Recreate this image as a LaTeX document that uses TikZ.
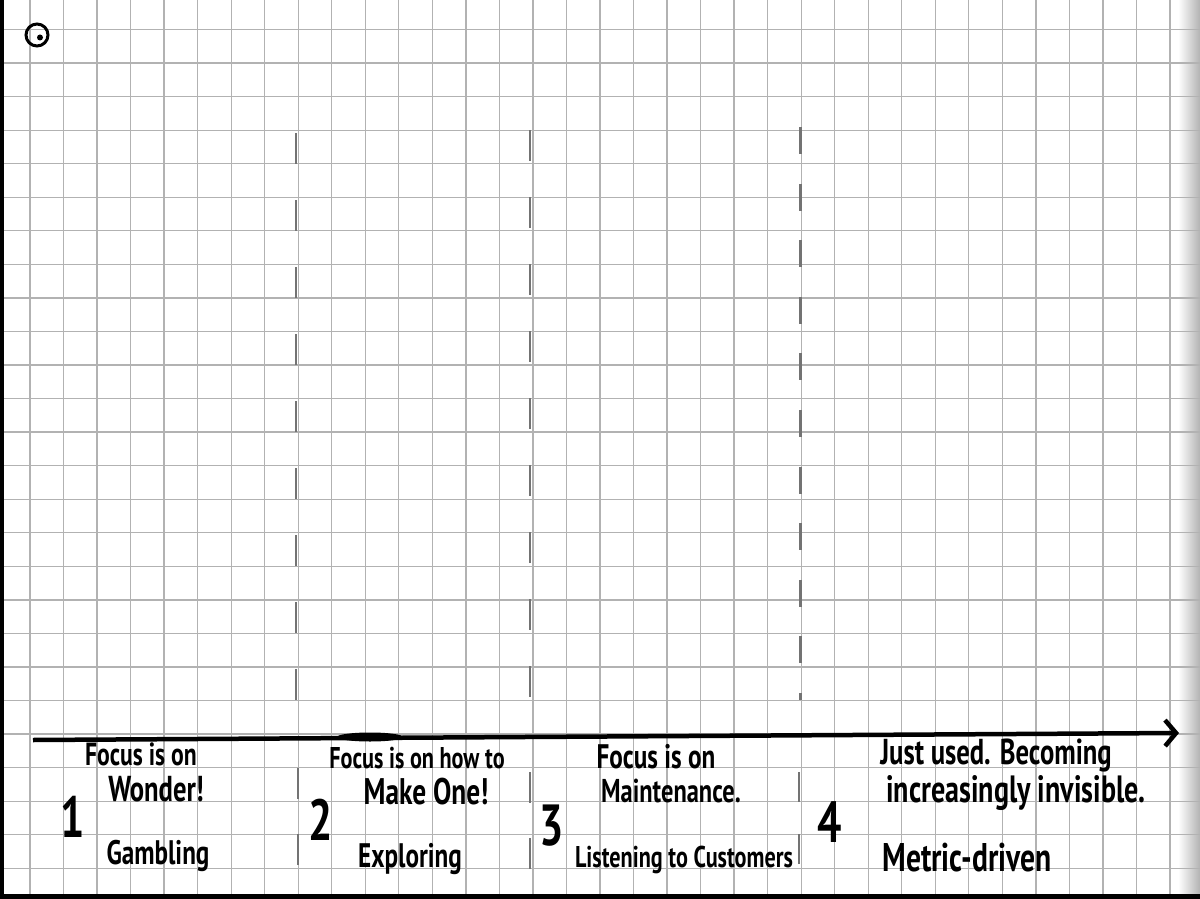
\documentclass[tikz,border=0pt]{standalone}
\usepackage{fontspec}
\newfontfamily\hand[FakeStretch=0.74]{PT Sans Bold}
\usetikzlibrary{arrows.meta}
\tikzset{
  % carta a quadretti
  gridline/.style={draw=black!30, line width=1.3pt},
  divider/.style={draw=black!55, line width=2.6pt, dash pattern=on 31pt off 36pt},
  tightdivider/.style={draw=black!55, line width=2.6pt, dash pattern=on 27pt off 29.6pt},
  timeline/.style={line width=4.5pt, -{Straight Barb[length=11pt,width=26pt]}},
  % testi scritti a mano
  numeral/.style={anchor=base, inner sep=0pt, font=\hand\fontsize{58}{58}\selectfont},
  lead/.style={anchor=base, inner sep=0pt, font=\hand\fontsize{#1}{#1}\selectfont},
  lead/.default=28,
  headline/.style={anchor=base, inner sep=0pt, font=\hand\fontsize{#1}{#1}\selectfont},
  headline/.default=36,
  tag/.style={anchor=base, inner sep=0pt, font=\hand\fontsize{#1}{#1}\selectfont},
  tag/.default=34
}

\begin{document}
\begin{tikzpicture}[x=1pt, y=-1pt]

\useasboundingbox (0,0) rectangle (1200,899);
\fill[white] (0,0) rectangle (1200,899);
\shade[left color=white, right color=black!30] (1178,0) rectangle (1200,899);

% Griglia
\foreach \i in {0,...,34}
  \draw[gridline] ({30+33.53*\i},0) -- ({30+33.53*\i},899);
\foreach \j in {0,...,25}
  \draw[gridline] (0,{29.5+33.55*\j}) -- (1200,{29.5+33.55*\j});

% Bordi del foglio
\fill[black] (0,0) rectangle (3.5,899);
\fill[black] (0,894) rectangle (1200,899);

% Simbolo in alto a sinistra
\draw[line width=3pt] (37,35) circle[radius=11];
\fill (40,37.5) circle[radius=3];

% Separatori tratteggiati
\coordinate (sepAtop) at (296,133);
\coordinate (sepAbot) at (296,700);
\coordinate (sepBtop) at (530,130);
\coordinate (sepBbot) at (530,700);
\coordinate (sepCtop) at (800.5,127);
\coordinate (sepCbot) at (800.5,700);
\coordinate (lowAtop) at (298,768);
\coordinate (lowAbot) at (298,868);
\coordinate (lowBtop) at (530,772);
\coordinate (lowBbot) at (530,873);
\coordinate (lowCtop) at (799,772);
\coordinate (lowCbot) at (799,868);

\draw[divider] (sepAtop) -- (sepAbot);
\draw[divider] (sepBtop) -- (sepBbot);
\draw[tightdivider] (sepCtop) -- (sepCbot);
\draw[divider, dash pattern=on 31pt off 35pt] (lowAtop) -- (lowAbot);
\draw[divider, dash pattern=on 31pt off 35pt] (lowBtop) -- (lowBbot);
\draw[divider, dash pattern=on 30pt off 32pt] (lowCtop) -- (lowCbot);

% Asse del tempo
\coordinate (axisL) at (33,740);
\coordinate (axisR) at (1179,733);
\draw[timeline] (axisL) -- (axisR);
\fill (370,737) ellipse[x radius=33, y radius=4.5];

% Fase 1
\node[numeral] (one) at (73,837) {1};
\node[lead=32] (wonderLead) at (141,765) {Focus is on};
\node[headline] (wonder) at (156,801) {Wonder!};
\node[tag] (gambling) at (158,864) {Gambling};

% Fase 2
\node[numeral] (two) at (321,840) {2};
\node[lead=30] (makeLead) at (417,768) {Focus is on how to};
\node[headline=37] (makeOne) at (426,804) {Make One!};
\node[tag] (exploring) at (410,867) {Exploring};

% Fase 3
\node[numeral] (three) at (552,845) {3};
\node[lead=34] (maintLead) at (656,768) {Focus is on};
\node[headline=33] (maint) at (671,802) {Maintenance.};
\node[tag=30] (listening) at (684,867) {Listening to Customers};

% Fase 4
\node[numeral] (four) at (830,842) {4};
\node[lead=36] (usedLead) at (996,764) {Just used. Becoming};
\node[headline=38] (invisible) at (1016,802) {increasingly invisible.};
\node[tag=40] (metric) at (967,871) {Metric-driven};

\end{tikzpicture}
\end{document}
